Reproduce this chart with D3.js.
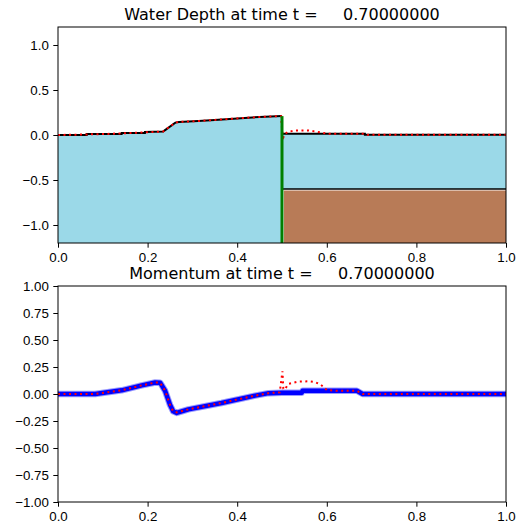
<!DOCTYPE html>
<html>
<head>
<meta charset="utf-8">
<script src="https://cdn.jsdelivr.net/npm/d3@7"></script>
<style>
  body { margin: 0; background: #fff; }
  svg { display: block; font-family: "DejaVu Sans", sans-serif; }
  .tick text { font-size: 13.3px; fill: #000; }
  .title { font-size: 16px; fill: #000; }
</style>
</head>
<body>
<svg id="chart" width="518" height="529"></svg>
<script>
// water surface (numerical), left and right of the step at x = 0.5
var surfLeftX = [0, 0.064, 0.064, 0.142, 0.142, 0.194, 0.194, 0.235, 0.262, 0.27, 0.313, 0.35, 0.417, 0.45, 0.5];
var surfLeftH = [0.0, 0.0, 0.012, 0.012, 0.022, 0.022, 0.034, 0.04, 0.138, 0.145, 0.155, 0.167, 0.19, 0.2, 0.21];
var surfRightX = [0.5, 0.685, 0.685, 1.0];
var surfRightH = [0.014, 0.014, 0.003, 0.003];

// reference surface (red dotted)
var refSurfX = [0, 0.1, 0.2, 0.235, 0.262, 0.27, 0.313, 0.35, 0.417, 0.45, 0.498, 0.502, 0.504, 0.513, 0.53, 0.56, 0.585, 0.6, 0.685, 0.69, 1.0];
var refSurfH = [0.0, 0.01, 0.03, 0.04, 0.138, 0.145, 0.155, 0.167, 0.19, 0.2, 0.21, -0.06, 0.0, 0.035, 0.05, 0.05, 0.03, 0.015, 0.014, 0.003, 0.003];

// bathymetry
var bedLeft = -1.2;
var bedRight = -0.6;
var wallX = 0.5;

// momentum (numerical, blue)
var momX = [0, 0.083, 0.142, 0.187, 0.217, 0.228, 0.239, 0.25, 0.257, 0.265, 0.291, 0.365, 0.44, 0.47, 0.5, 0.544, 0.546, 0.667, 0.68, 1.0];
var momQ = [0, 0, 0.034, 0.08, 0.106, 0.105, 0.03, -0.1, -0.16, -0.175, -0.142, -0.083, -0.015, 0.008, 0.012, 0.012, 0.03, 0.03, 0.0, 0.0];

// momentum reference (red dotted)
var refMomX = [0, 0.083, 0.142, 0.187, 0.217, 0.228, 0.239, 0.25, 0.257, 0.265, 0.291, 0.365, 0.44, 0.47, 0.495, 0.501, 0.503, 0.506, 0.514, 0.536, 0.559, 0.574, 0.585, 0.592, 0.6, 0.62, 0.667, 0.68, 1.0];
var refMomQ = [0, 0, 0.034, 0.08, 0.106, 0.105, 0.03, -0.1, -0.16, -0.17, -0.142, -0.083, -0.015, 0.008, 0.015, 0.21, 0.05, 0.04, 0.093, 0.114, 0.118, 0.11, 0.09, 0.068, 0.037, 0.03, 0.03, 0.0, 0.0];

var xTicks = [0, 0.2, 0.4, 0.6, 0.8, 1.0];
var depthTicks = [-1.0, -0.5, 0.0, 0.5, 1.0];
var momTicks = [-1.0, -0.75, -0.5, -0.25, 0, 0.25, 0.5, 0.75, 1.0];
var tLabel = "0.70000000";

var svg = d3.select("#chart");
var left = 58, right = 506;

var x = d3.scaleLinear().domain([0, 1]).range([left, right]);
var yTop = d3.scaleLinear().domain([-1.2, 1.2]).range([243, 27]);
var yBot = d3.scaleLinear().domain([-1, 1]).range([502, 286]);

function zip(a, b) {
  return a.map(function (d, i) { return [d, b[i]]; });
}

// ---------- top: water depth ----------
var gTop = svg.append("g");

// sediment block on the right
gTop.append("rect")
  .attr("x", x(wallX) + 2)
  .attr("y", yTop(bedRight) + 1.5)
  .attr("width", x(1) - x(wallX) - 2)
  .attr("height", yTop(bedLeft) - yTop(bedRight) - 1.5)
  .attr("fill", "#b87b57");

var areaTop = function (floor) {
  return d3.area()
    .x(function (d) { return x(d[0]); })
    .y0(yTop(floor))
    .y1(function (d) { return yTop(d[1]); });
};

gTop.append("path")
  .datum(zip(surfLeftX, surfLeftH))
  .attr("d", areaTop(bedLeft))
  .attr("fill", "#9bd9e8");

gTop.append("path")
  .datum(zip(surfRightX, surfRightH))
  .attr("d", areaTop(bedRight))
  .attr("fill", "#9bd9e8");

var lineTop = d3.line()
  .x(function (d) { return x(d[0]); })
  .y(function (d) { return yTop(d[1]); });

// bed line on the right
gTop.append("path")
  .datum([[wallX, bedRight], [1, bedRight]])
  .attr("d", lineTop)
  .attr("stroke", "#000")
  .attr("stroke-width", 1.5)
  .attr("fill", "none");

gTop.append("path")
  .datum(zip(surfLeftX, surfLeftH))
  .attr("d", lineTop)
  .attr("stroke", "#000")
  .attr("stroke-width", 2)
  .attr("fill", "none");

gTop.append("path")
  .datum(zip(surfRightX, surfRightH))
  .attr("d", lineTop)
  .attr("stroke", "#000")
  .attr("stroke-width", 2)
  .attr("fill", "none");

gTop.append("path")
  .datum(zip(refSurfX, refSurfH))
  .attr("d", lineTop)
  .attr("stroke", "#ff0000")
  .attr("stroke-width", 2)
  .attr("stroke-dasharray", "2,3.5")
  .attr("fill", "none");

// wall
gTop.append("path")
  .datum([[wallX, bedLeft], [wallX, surfLeftH[surfLeftH.length - 1]]])
  .attr("d", lineTop)
  .attr("stroke", "#008000")
  .attr("stroke-width", 3)
  .attr("fill", "none");

gTop.append("rect")
  .attr("x", left).attr("y", 27)
  .attr("width", right - left).attr("height", 216)
  .attr("fill", "none").attr("stroke", "#000").attr("stroke-width", 1);

gTop.append("g")
  .attr("transform", "translate(0,243)")
  .call(d3.axisBottom(x).tickValues(xTicks).tickFormat(d3.format(".1f")).tickSize(4.7).tickPadding(4.5))
  .call(function (g) { g.select(".domain").remove(); });

gTop.append("g")
  .attr("transform", "translate(" + left + ",0)")
  .call(d3.axisLeft(yTop).tickValues(depthTicks).tickFormat(d3.format(".1f")).tickSize(4.7).tickPadding(4.5))
  .call(function (g) { g.select(".domain").remove(); });

gTop.append("text")
  .attr("class", "title")
  .attr("x", (left + right) / 2)
  .attr("y", 20)
  .attr("text-anchor", "middle")
  .attr("xml:space", "preserve")
  .text("Water Depth at time t =     " + tLabel);

// ---------- bottom: momentum ----------
var gBot = svg.append("g");

var lineBot = d3.line()
  .x(function (d) { return x(d[0]); })
  .y(function (d) { return yBot(d[1]); });

gBot.append("path")
  .datum(zip(momX, momQ))
  .attr("d", lineBot)
  .attr("stroke", "rgba(0,0,255,0.4)")
  .attr("stroke-width", 6.5)
  .attr("stroke-linejoin", "round")
  .attr("fill", "none");

gBot.append("path")
  .datum(zip(momX, momQ))
  .attr("d", lineBot)
  .attr("stroke", "#0000ff")
  .attr("stroke-width", 4.5)
  .attr("stroke-linejoin", "round")
  .attr("fill", "none");

gBot.append("path")
  .datum(zip(refMomX, refMomQ))
  .attr("d", lineBot)
  .attr("stroke", "#ff0000")
  .attr("stroke-width", 2)
  .attr("stroke-dasharray", "2,3.5")
  .attr("fill", "none");

gBot.append("rect")
  .attr("x", left).attr("y", 286)
  .attr("width", right - left).attr("height", 216)
  .attr("fill", "none").attr("stroke", "#000").attr("stroke-width", 1);

gBot.append("g")
  .attr("transform", "translate(0,502)")
  .call(d3.axisBottom(x).tickValues(xTicks).tickFormat(d3.format(".1f")).tickSize(4.7).tickPadding(4.5))
  .call(function (g) { g.select(".domain").remove(); });

gBot.append("g")
  .attr("transform", "translate(" + left + ",0)")
  .call(d3.axisLeft(yBot).tickValues(momTicks).tickFormat(d3.format(".2f")).tickSize(4.7).tickPadding(4.5))
  .call(function (g) { g.select(".domain").remove(); });

gBot.append("text")
  .attr("class", "title")
  .attr("x", (left + right) / 2)
  .attr("y", 279)
  .attr("text-anchor", "middle")
  .attr("xml:space", "preserve")
  .text("Momentum at time t =     " + tLabel);
</script>
</body>
</html>
